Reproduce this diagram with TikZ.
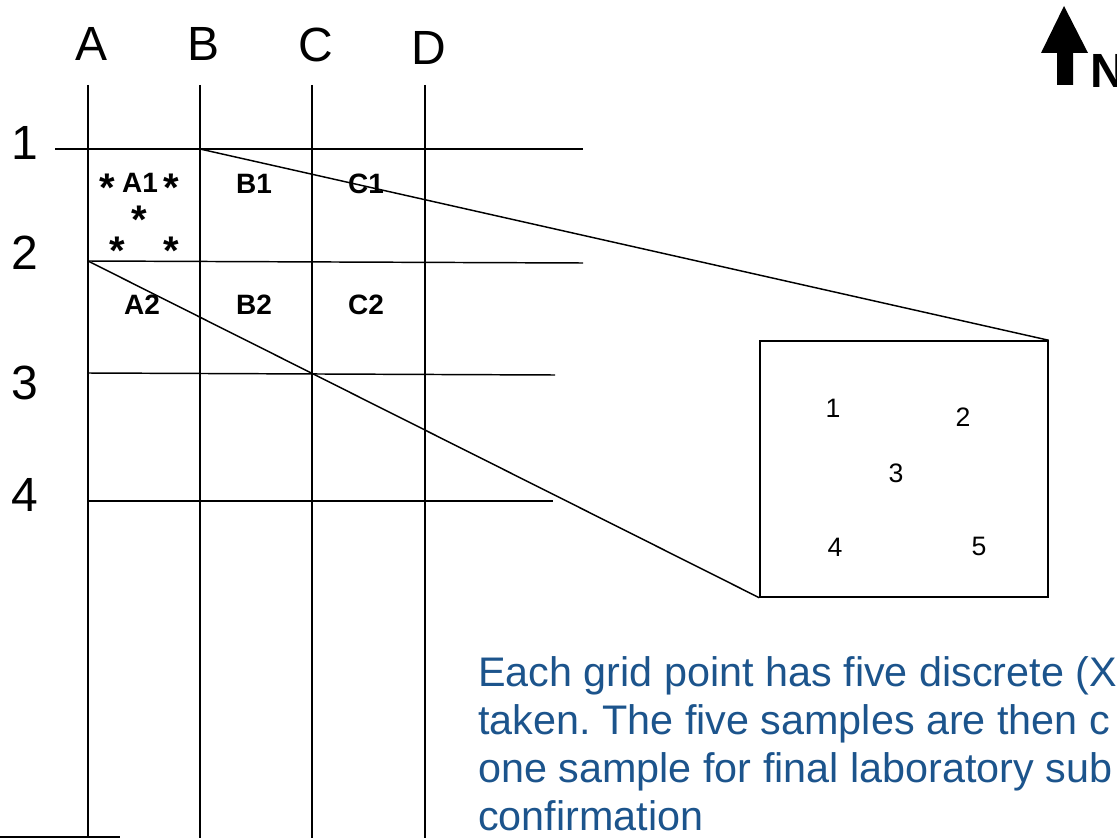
\documentclass[tikz,border=0pt]{standalone}
\usepackage{fontspec}
\setmainfont{Liberation Sans}
\usetikzlibrary{positioning}
\definecolor{blurbblue}{RGB}{28,84,140}
\frenchspacing
\tikzset{
  rules/.style={line width=1.1pt},
  gridlbl/.style={inner sep=0pt,font=\fontsize{36}{40}\selectfont},
  cell/.style={inner sep=0pt,font=\fontsize{21}{24}\selectfont\bfseries},
  sample/.style={inner sep=0pt,font=\fontsize{30}{32}\selectfont\bfseries},
  boxnum/.style={inner sep=0pt,font=\fontsize{20}{22}\selectfont},
  zoombox/.style={draw,line width=1.1pt,minimum width=288*0.75pt,minimum height=256*0.75pt,inner sep=0pt},
  blurb/.style={inner sep=0pt,align=left,text=blurbblue,font=\fontsize{31}{36}\selectfont},
}
\begin{document}
\begin{tikzpicture}[x=0.75pt,y=-0.75pt]
  \useasboundingbox (0,0) rectangle (1117,838);
  \clip (0,0) rectangle (1117,838);
  % oszlopok
  \foreach \c/\x/\y in {A/88/44,B/200/44,C/312/45,D/425/48} {
    \node[gridlbl] (col\c) at (\x+3.5,\y) {\c};
    \draw[rules] (\x,85) -- (\x,838);
  }
  % sorok
  \foreach \r/\y in {1/143,2/253,3/383,4/495}
    \node[gridlbl] (row\r) at (25,\y) {\r};
  \draw[rules] (55,149) -- (583,149);
  \draw[rules] (88,261) -- (583,263);
  \draw[rules] (88,373) -- (555,375);
  \draw[rules] (88,501) -- (553,501);
  \draw[line width=1.5pt] (0,837) -- (120,837);
  \coordinate (pB1) at (200,149);
  \coordinate (pA2) at (88,261);
  % cellak
  \foreach \n/\x/\y in {A1/140/183,B1/254/184,C1/366/184,A2/142/305,B2/254/305,C2/366/305}
    \node[cell] (cell\n) at (\x,\y) {\n};
  \foreach \i/\x/\y in {1/107/179,2/171/179,3/139/211,4/117/242,5/171/242}
    \node[sample] (s\i) at (\x,\y+9) {*};
  % nagyitas
  \node[zoombox] (zoom) at (904,469) {};
  \foreach \i/\x/\y in {1/833/408,2/963/417,3/896/473,4/835/547,5/979/546}
    \node[boxnum] (z\i) at (\x,\y) {\i};
  \draw[rules] (pB1) -- (zoom.north east);
  \draw[rules] (pA2) -- (zoom.south west);
  % eszak
  \fill (1064,6) -- (1088,53) -- (1073,53) -- (1073,85) -- (1057,85) -- (1057,53) -- (1041,53) -- cycle;
  \node[inner sep=0pt,anchor=base west,font=\fontsize{36}{40}\selectfont\bfseries] (north) at (1090,88) {N};
  \node[blurb,anchor=base west] (note) at (478,830)
    {Each grid point has five discrete (X\\taken. The five samples are then c\\one sample for final laboratory sub\\confirmation};
\end{tikzpicture}
\end{document}
